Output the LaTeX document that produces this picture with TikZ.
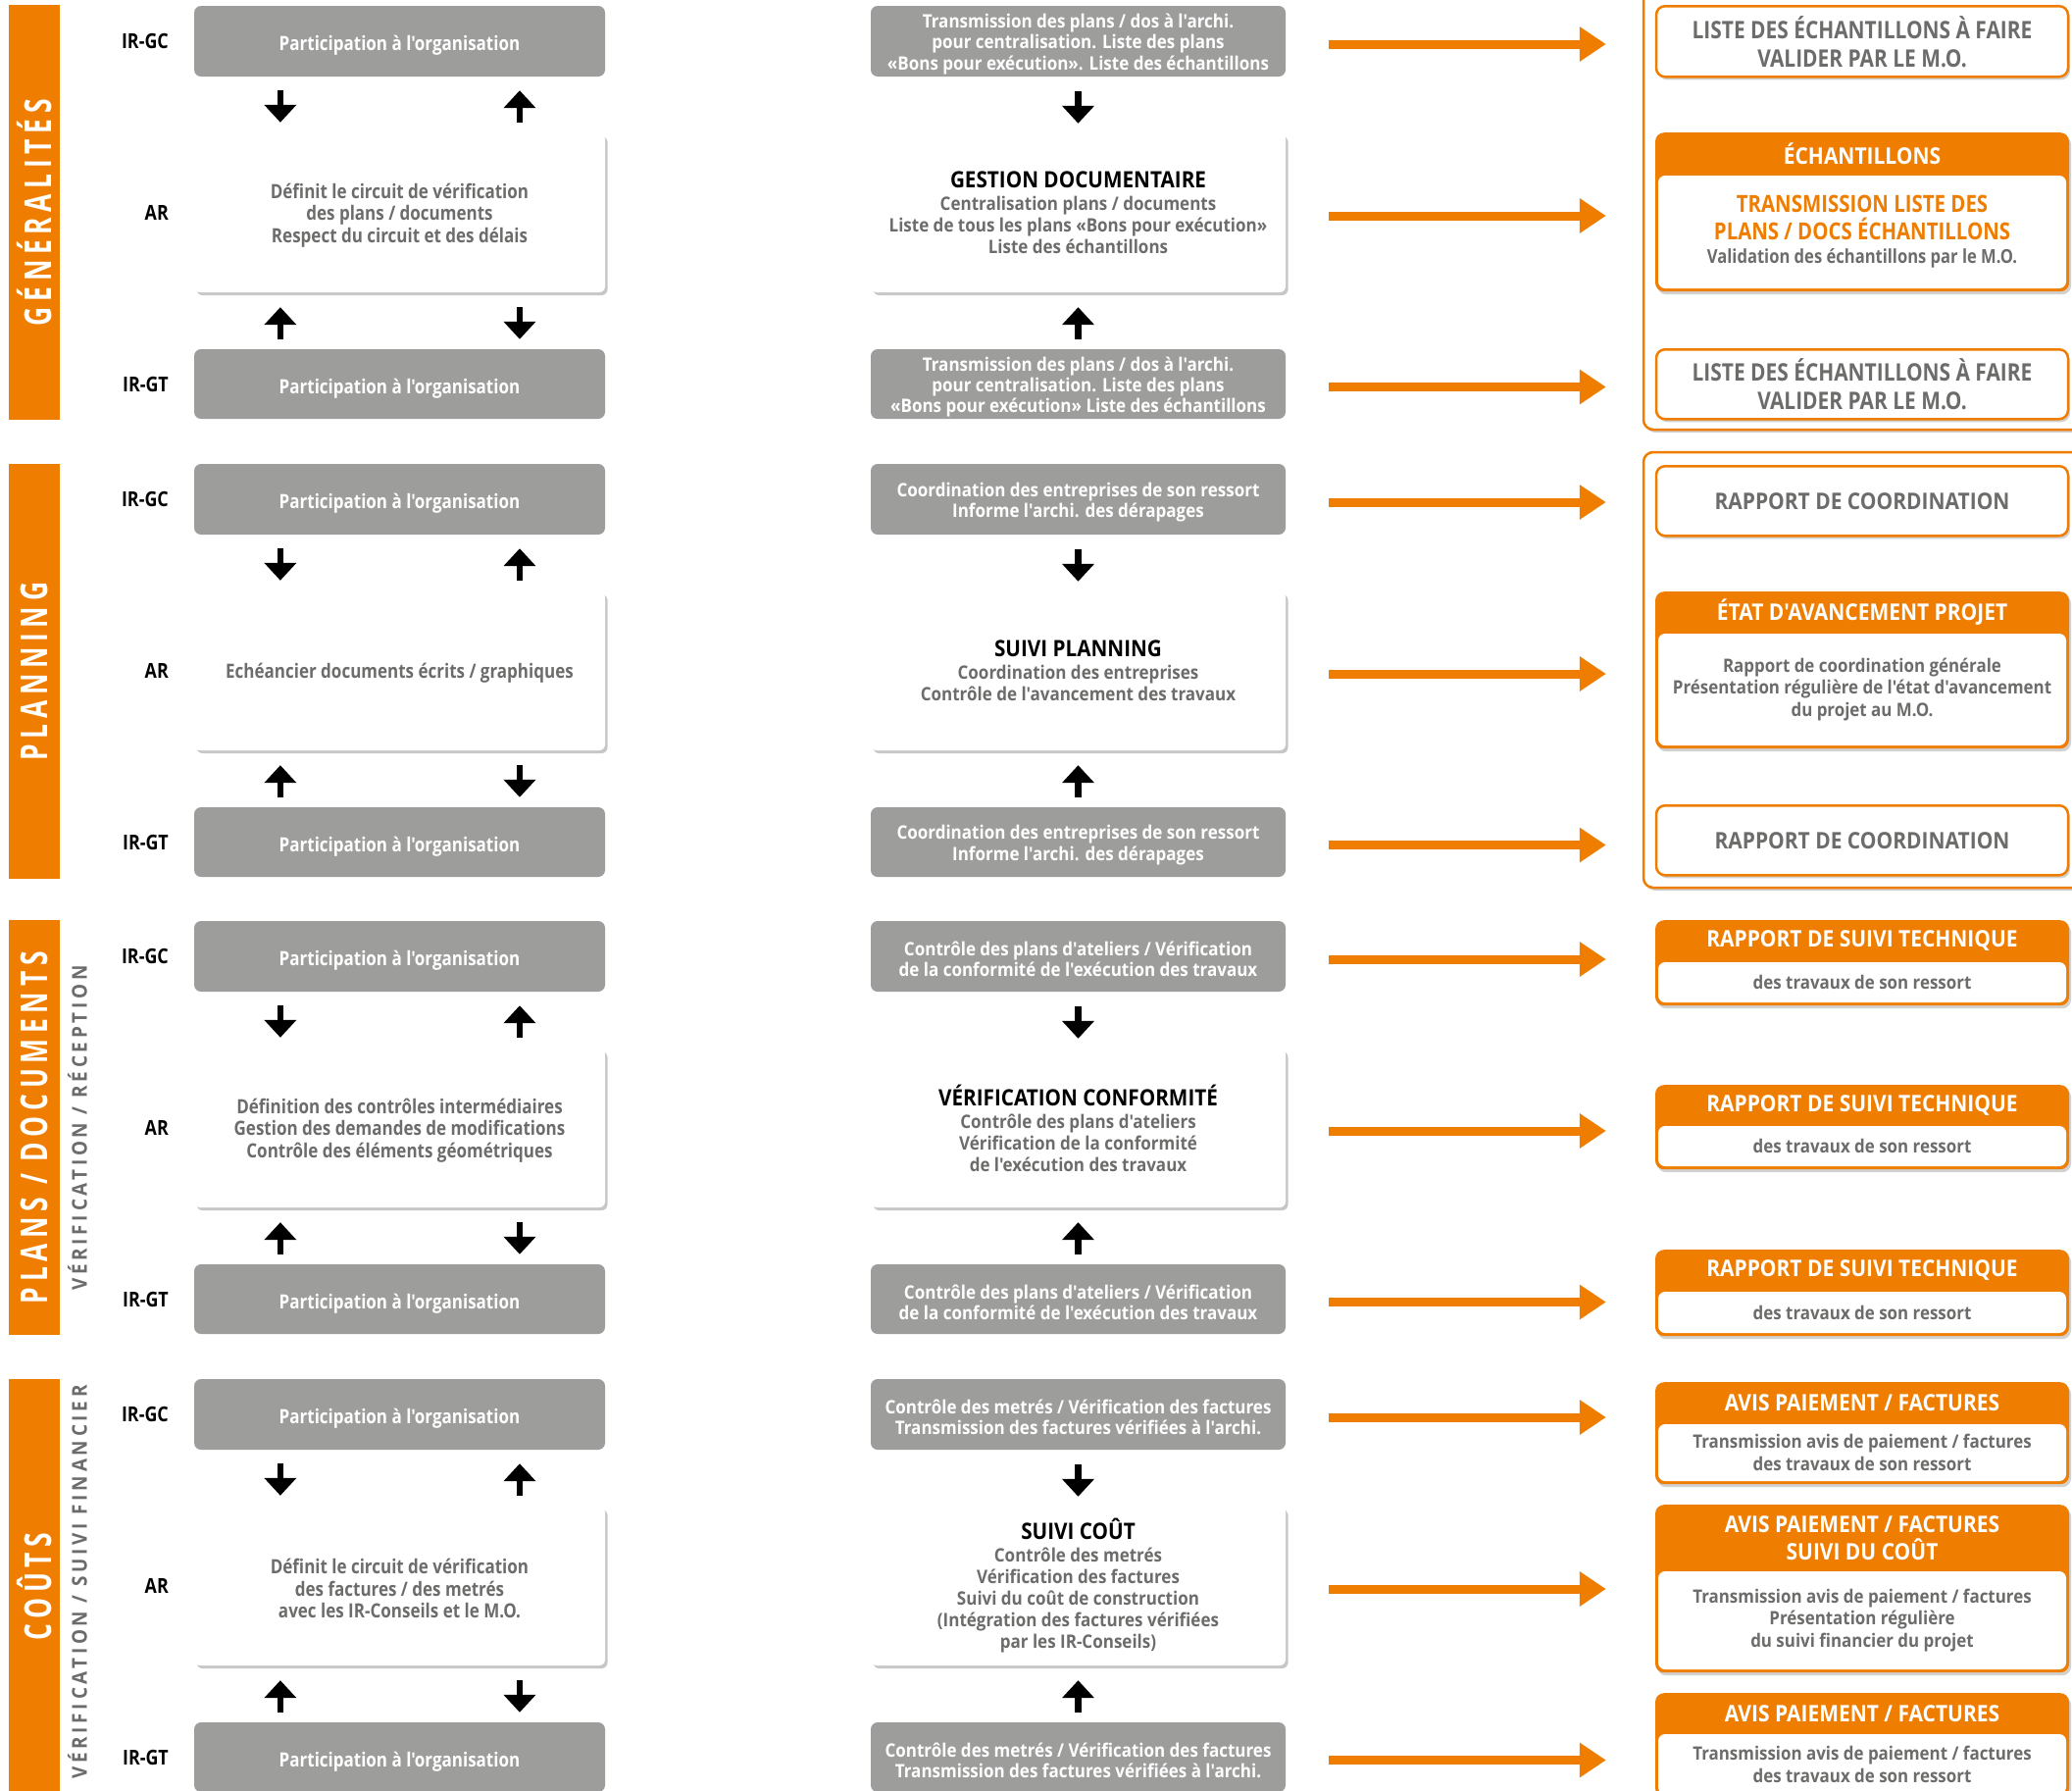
\documentclass[tikz,border=0pt]{standalone}
\usepackage{fontspec}
\setmainfont[FakeStretch=0.9]{Open Sans}
\newfontfamily\mdfont[FakeStretch=0.85]{Open Sans}
\newfontfamily\sbfont[FakeStretch=0.9]{Open Sans}
\newfontfamily\lbfont[FakeStretch=0.85]{Open Sans}
\newfontfamily\barfont[FakeStretch=0.7,LetterSpace=15]{Open Sans}
\newfontfamily\sidefont[FakeStretch=0.9,LetterSpace=18]{Open Sans}
\usetikzlibrary{arrows.meta,calc,shadows}

\definecolor{orng}{RGB}{239,125,0}
\definecolor{boxgrey}{RGB}{157,157,156}
\definecolor{txtgrey}{RGB}{108,108,107}

\newcommand\sz[2]{\fontsize{#1}{#2}\selectfont}
\newcommand\mtitle[1]{{\sz{23}{23}\color{black}#1}}

\tikzset{
  greybox/.style={fill=boxgrey, rounded corners=7pt, inner sep=0pt},
  lbox/.style={greybox, minimum width=419pt},
  mbox/.style={greybox, minimum width=423pt},
  ltext/.style={text=white, align=center, inner sep=0pt, font=\mdfont\bfseries\sz{20}{22.5}},
  mtext/.style={text=white, align=center, inner sep=0pt, font=\sbfont\bfseries\sz{18.9}{21.2}},
  softshadow/.style={drop shadow={shadow xshift=2.5pt, shadow yshift=-3pt, opacity=0.22, fill=black}},
  softshadowR/.style={drop shadow={shadow xshift=2pt, shadow yshift=-3pt, opacity=0.18, fill=black}},
  whitebox/.style={fill=white, rounded corners=6pt, inner sep=0pt, align=center, softshadow, minimum height=162pt},
  lwhite/.style={whitebox, minimum width=419pt},
  lwtext/.style={text=txtgrey, align=center, inner sep=0pt, font=\mdfont\bfseries\sz{20}{22.5}},
  mwhite/.style={whitebox, minimum width=423pt, text=txtgrey, font=\sbfont\bfseries\sz{18.9}{22}},
  rowlabel/.style={anchor=east, inner sep=0pt, font=\lbfont\bfseries\sz{21}{22}},
  barrow/.style={line width=6.5pt, -{Triangle[width=32pt,length=18pt]}},
  oarrow/.style={orng, line width=9pt, -{Triangle[width=34pt,length=27pt]}, shorten <=44pt, shorten >=50pt},
  sidebar/.style={fill=orng, minimum width=52pt, minimum height=423pt, inner sep=0pt, anchor=north},
  bartext/.style={rotate=90, text=white, inner sep=0pt, font=\barfont\bfseries\sz{37.8}{40}},
  sidetext/.style={rotate=90, text=txtgrey, inner sep=0pt, font=\sidefont\bfseries\sz{21}{22}},
  groupframe/.style={draw=orng, line width=2.5pt, fill=white, rounded corners=10pt, softshadowR},
  rframe/.style={draw=orng, line width=2.5pt, fill=white, rounded corners=9pt, minimum width=420pt,
    inner sep=0pt, anchor=north, softshadowR, text=txtgrey, font=\sbfont\bfseries\sz{23.3}{29}, align=center},
  hdrframe/.style={fill=orng, rounded corners=9pt, minimum width=422pt, inner sep=0pt, anchor=north, softshadowR},
  hdrtext/.style={text=white, font=\sbfont\bfseries\sz{23.3}{28}, align=center, inner sep=0pt},
  rbody/.style={text=txtgrey, font=\sbfont\bfseries\sz{18.8}{22.8}, align=center, inner sep=0pt},
  obody/.style={text=orng, font=\mdfont\bfseries\sz{24}{28}, align=center, inner sep=0pt}
}

% left column of one section: #1 index, #2 top, #3 text of the AR box
\newcommand\leftcol[3]{%
  \node[lbox, minimum height=72pt] (g#1t) at (407.5,#2+36) {};
  \node[ltext] (g#1tx) at ([yshift=-4.5pt]g#1t.center) {Participation à l'organisation};
  \node[lwhite] (g#1a) at (407.5,#2+211) {};
  \node[lwtext] (g#1ax) at ([yshift=-2.5pt]g#1a.center) {#3};
  \node[lbox, minimum height=71pt] (g#1b) at (407.5,#2+385.5) {};
  \node[ltext] (g#1bx) at ([yshift=-4.5pt]g#1b.center) {Participation à l'organisation};
  \node[rowlabel] (l#1t) at (172,#2+36) {IR-GC};
  \node[rowlabel] (l#1a) at (172,#2+211) {AR};
  \node[rowlabel] (l#1b) at (172,#2+385.5) {IR-GT};
  \draw[barrow, shorten <=14pt, shorten >=11pt]
    ($(g#1t.south west)!0.21!(g#1t.south east)$) -- ($(g#1a.north west)!0.21!(g#1a.north east)$);
  \draw[barrow, shorten <=11pt, shorten >=14pt]
    ($(g#1a.north west)!0.792!(g#1a.north east)$) -- ($(g#1t.south west)!0.792!(g#1t.south east)$);
  \draw[barrow, shorten <=10pt, shorten >=15pt]
    ($(g#1b.north west)!0.21!(g#1b.north east)$) -- ($(g#1a.south west)!0.21!(g#1a.south east)$);
  \draw[barrow, shorten <=15pt, shorten >=10pt]
    ($(g#1a.south west)!0.792!(g#1a.south east)$) -- ($(g#1b.north west)!0.792!(g#1b.north east)$);
}

% middle column of one section: #1 index, #2 top, #3 upper box, #4 central box, #5 lower box
\newcommand\midcol[5]{%
  \node[mbox, minimum height=72pt] (m#1t) at (1099.5,#2+36) {};
  \node[mtext] (m#1tx) at ([yshift=-3pt]m#1t.center) {#3};
  \node[mwhite] (m#1a) at (1099.5,#2+211) {#4};
  \node[mbox, minimum height=71pt] (m#1b) at (1099.5,#2+385.5) {};
  \node[mtext] (m#1bx) at ([yshift=-3pt]m#1b.center) {#5};
  \draw[barrow, shorten <=15pt, shorten >=10pt] (m#1t.south) -- (m#1a.north);
  \draw[barrow, shorten <=10pt, shorten >=15pt] (m#1b.north) -- (m#1a.south);
}

% orange box with a title band: #1 name, #2 top, #3 band bottom, #4 bottom, #5 title, #6 body, #7 body style
\newcommand\hdrbox[7]{%
  \node[hdrframe, minimum height={#4-#2}] (#1) at (1899,#2) {};
  \fill[white, rounded corners=7pt] (1691,#3) rectangle (2107,#4-3);
  \node[hdrtext] (#1h) at (1899,{(#2+#3)/2}) {#5};
  \node[#7] (#1b) at (1899,{(#3+#4-3)/2}) {#6};
}

\begin{document}
\begin{tikzpicture}[x=1pt,y=-1pt]
\useasboundingbox (0,0) rectangle (2113,1826);
\fill[white] (0,0) rectangle (2113,1826);

% group frames on the right
\path[groupframe] (1676,-40) rectangle (2160,438);
\path[groupframe] (1676,461) rectangle (2160,905);

% section bars
\node[sidebar] (bar0) at (35,5) {};
\node[bartext] (bar0t) at (bar0.center) {GÉNÉRALITÉS};
\node[sidebar] (bar1) at (35,473) {};
\node[bartext] (bar1t) at (bar1.center) {PLANNING};
\node[sidebar] (bar2) at (35,938) {};
\node[bartext] (bar2t) at (bar2.center) {PLANS / DOCUMENTS};
\node[sidebar] (bar3) at (35,1406) {};
\node[bartext] (bar3t) at (bar3.center) {COÛTS};
\node[sidetext] (side2) at (79,1150) {VÉRIFICATION / RÉCEPTION};
\node[sidetext, anchor=east] (side3) at (79,1412) {VÉRIFICATION / SUIVI FINANCIER};

% left column
\leftcol{0}{6}{Définit le circuit de vérification\\des plans / documents\\Respect du circuit et des délais}
\leftcol{1}{473}{Echéancier documents écrits / graphiques}
\leftcol{2}{939}{Définition des contrôles intermédiaires\\Gestion des demandes de modifications\\Contrôle des éléments géométriques}
\leftcol{3}{1406}{Définit le circuit de vérification\\des factures / des metrés\\avec les IR-Conseils et le M.O.}

% middle column
\midcol{0}{6}{Transmission des plans / dos à l'archi.\\pour centralisation. Liste des plans\\«Bons pour exécution». Liste des échantillons}
  {\mtitle{GESTION DOCUMENTAIRE}\\[1pt]Centralisation plans / documents\\Liste de tous les plans «Bons pour exécution»\\Liste des échantillons}
  {Transmission des plans / dos à l'archi.\\pour centralisation. Liste des plans\\«Bons pour exécution» Liste des échantillons}
\midcol{1}{473}{Coordination des entreprises de son ressort\\Informe l'archi. des dérapages}
  {\mtitle{SUIVI PLANNING}\\[1pt]Coordination des entreprises\\Contrôle de l'avancement des travaux}
  {Coordination des entreprises de son ressort\\Informe l'archi. des dérapages}
\midcol{2}{939}{Contrôle des plans d'ateliers / Vérification\\de la conformité de l'exécution des travaux}
  {\mtitle{VÉRIFICATION CONFORMITÉ}\\[1pt]Contrôle des plans d'ateliers\\Vérification de la conformité\\de l'exécution des travaux}
  {Contrôle des plans d'ateliers / Vérification\\de la conformité de l'exécution des travaux}
\midcol{3}{1406}{Contrôle des metrés / Vérification des factures\\Transmission des factures vérifiées à l'archi.}
  {\mtitle{SUIVI COÛT}\\[1pt]Contrôle des metrés\\Vérification des factures\\Suivi du coût de construction\\(Intégration des factures vérifiées\\par les IR-Conseils)}
  {Contrôle des metrés / Vérification des factures\\Transmission des factures vérifiées à l'archi.}

% right column: generalities
\node[rframe, minimum height=72pt, font=\mdfont\bfseries\sz{24.6}{29}] (r0t) at (1899,5) {LISTE DES ÉCHANTILLONS À FAIRE\\VALIDER PAR LE M.O.};
\hdrbox{r0a}{135}{179}{297}{ÉCHANTILLONS}
  {TRANSMISSION LISTE DES\\PLANS / DOCS ÉCHANTILLONS\\[-4pt]{\sz{19.5}{24}\color{txtgrey}Validation des échantillons par le M.O.}}{obody}
\node[rframe, minimum height=71pt, font=\mdfont\bfseries\sz{24.6}{29}] (r0b) at (1899,355) {LISTE DES ÉCHANTILLONS À FAIRE\\VALIDER PAR LE M.O.};

% right column: planning
\node[rframe, minimum height=71pt] (r1t) at (1899,474) {RAPPORT DE COORDINATION};
\hdrbox{r1a}{603}{646}{763}{ÉTAT D'AVANCEMENT PROJET}
  {Rapport de coordination générale\\Présentation régulière de l'état d'avancement\\du projet au M.O.}{rbody}
\node[rframe, minimum height=71pt] (r1b) at (1899,820) {RAPPORT DE COORDINATION};

% right column: plans / documents
\hdrbox{r2t}{938}{981}{1025}{RAPPORT DE SUIVI TECHNIQUE}{des travaux de son ressort}{rbody}
\hdrbox{r2a}{1106}{1148}{1192}{RAPPORT DE SUIVI TECHNIQUE}{des travaux de son ressort}{rbody}
\hdrbox{r2b}{1274}{1317}{1362}{RAPPORT DE SUIVI TECHNIQUE}{des travaux de son ressort}{rbody}

% right column: costs
\hdrbox{r3t}{1409}{1452}{1513}{AVIS PAIEMENT / FACTURES}
  {Transmission avis de paiement / factures\\des travaux de son ressort}{rbody}
\hdrbox{r3a}{1534}{1602}{1705}{AVIS PAIEMENT / FACTURES\\SUIVI DU COÛT}
  {Transmission avis de paiement / factures\\Présentation régulière\\du suivi financier du projet}{rbody}
\hdrbox{r3b}{1726}{1768}{1832}{AVIS PAIEMENT / FACTURES}
  {Transmission avis de paiement / factures\\des travaux de son ressort}{rbody}

% orange connectors from the middle column to the right column
\foreach \k in {0,1,2,3}{
  \foreach \r in {t,a,b}{
    \draw[oarrow] ([yshift=-3pt]m\k\r.east) -- ([yshift=-3pt]m\k\r.east -| r\k\r.west);
  }
}
\end{tikzpicture}
\end{document}
